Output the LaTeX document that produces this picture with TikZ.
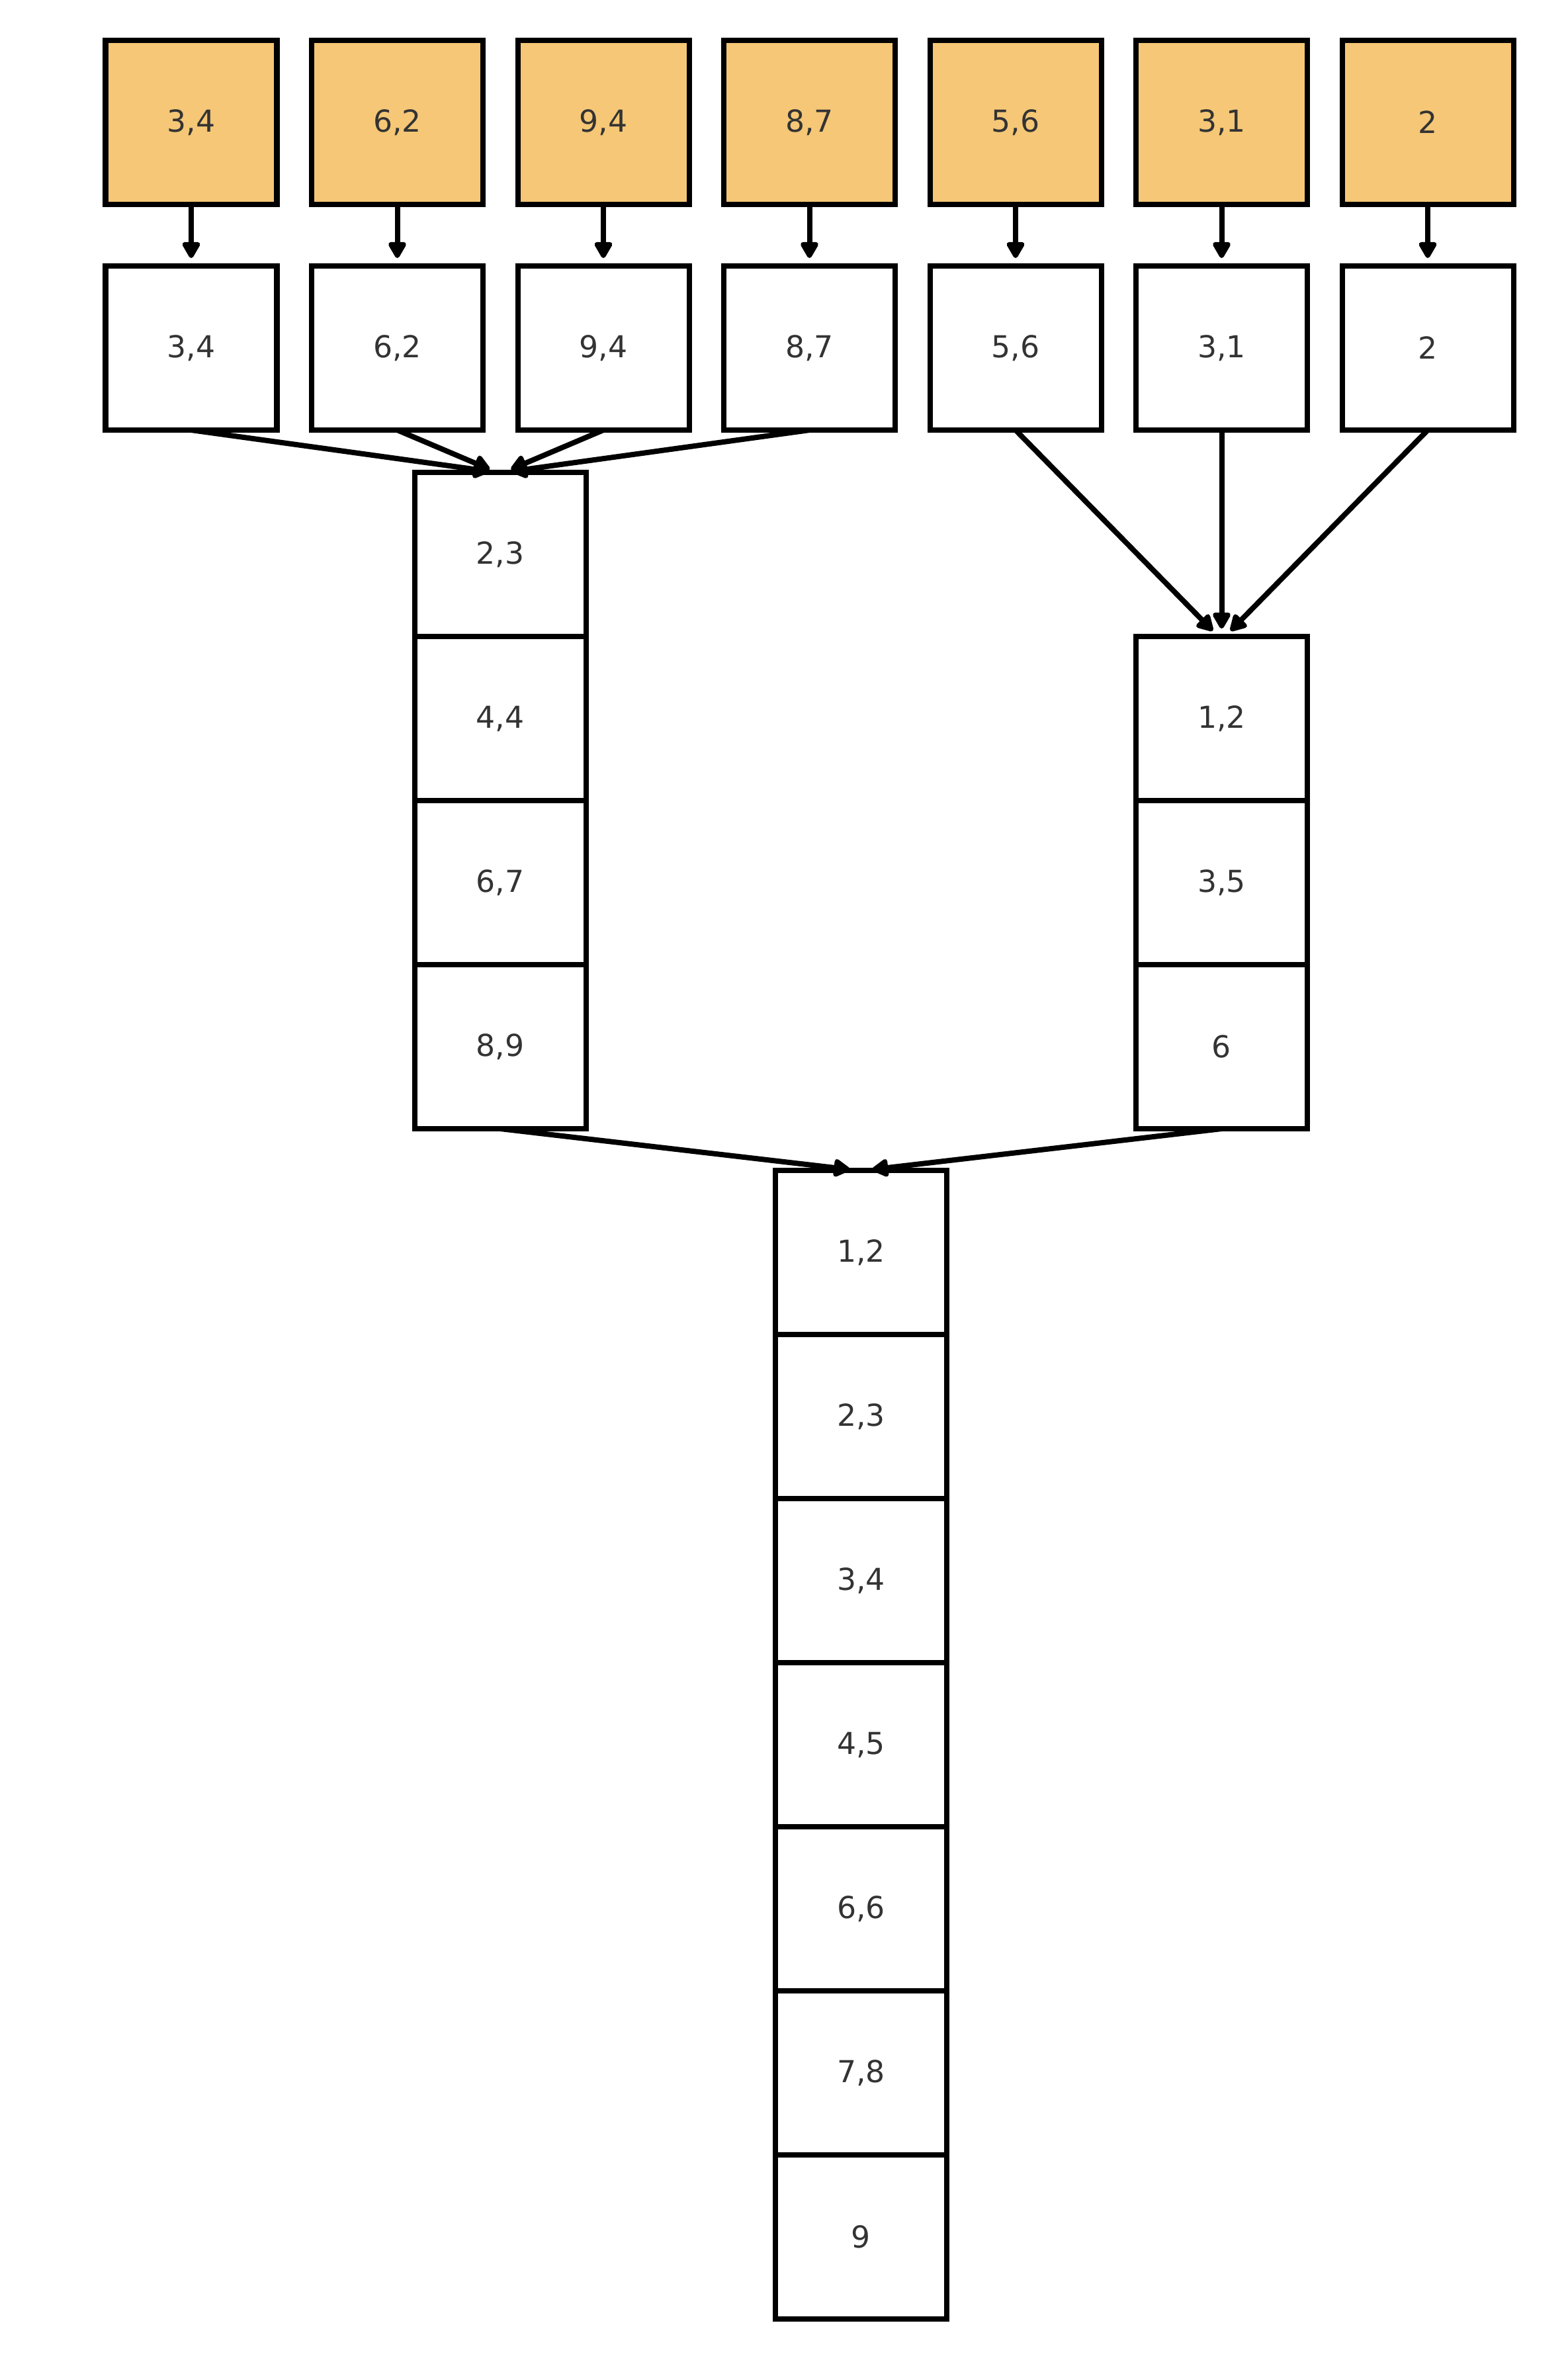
\documentclass[tikz,border=0pt]{standalone}
\usepackage{fontspec}
\setmainfont{DejaVu Sans}
\usetikzlibrary{positioning,calc,arrows.meta}
\definecolor{runfill}{RGB}{245,199,118}
\definecolor{numgray}{RGB}{51,51,51}
\begin{document}
\begin{tikzpicture}[->,>={Triangle[length=8pt,width=8.5pt,round]},shorten >=1.2mm,
    line width=2.28pt,node distance=3.115cm,
    cell/.style={draw,fill=white,inner sep=0pt,outer sep=0pt,minimum width=2.59cm,
      minimum height=2.48cm,text=numgray,font=\fontsize{13pt}{15pt}\selectfont},
    input/.style={cell,fill=runfill}]
    \useasboundingbox (0,0) rectangle (23.7,-35.7);
    % unsorted pairs
    \node[input] (1) at (2.89,-1.85) {3,4};
    \node[input] (2) [right of=1] {6,2};
    \node[input] (3) [right of=2] {9,4};
    \node[input] (4) [right of=3] {8,7};
    \node[input] (5) [right of=4] {5,6};
    \node[input] (6) [right of=5] {3,1};
    \node[input] (7) [right of=6] {2};
    % copied row
    \node[cell] (11) [below of=1,node distance=3.41cm] {3,4};
    \node[cell] (12) [right of=11] {6,2};
    \node[cell] (13) [right of=12] {9,4};
    \node[cell] (14) [right of=13] {8,7};
    \node[cell] (15) [right of=14] {5,6};
    \node[cell] (16) [right of=15] {3,1};
    \node[cell] (17) [right of=16] {2};
    % left run
    \node[cell] (21) at ($(12)!0.5!(13)+(0,-3.12)$) {2,3};
    \node[cell] (22) [below of=21,node distance=2.48cm] {4,4};
    \node[cell] (23) [below of=22,node distance=2.48cm] {6,7};
    \node[cell] (24) [below of=23,node distance=2.48cm] {8,9};
    % right run
    \node[cell] (31) at (16 |- 22) {1,2};
    \node[cell] (32) [below of=31,node distance=2.48cm] {3,5};
    \node[cell] (33) [below of=32,node distance=2.48cm] {6};
    % merged result
    \node[cell] (41) at ($(24)!0.5!(33)+(0,-3.11)$) {1,2};
    \node[cell] (42) [below of=41,node distance=2.48cm] {2,3};
    \node[cell] (43) [below of=42,node distance=2.48cm] {3,4};
    \node[cell] (44) [below of=43,node distance=2.48cm] {4,5};
    \node[cell] (45) [below of=44,node distance=2.48cm] {6,6};
    \node[cell] (46) [below of=45,node distance=2.48cm] {7,8};
    \node[cell] (47) [below of=46,node distance=2.48cm] {9};

    \path
      (1) edge (11)
      (2) edge (12)
      (3) edge (13)
      (4) edge (14)
      (5) edge (15)
      (6) edge (16)
      (7) edge (17)
      (11.south) edge ([xshift=-0.05cm]21.north)
      (12.south) edge ([xshift=-0.05cm]21.north)
      (13.south) edge ([xshift=0.05cm]21.north)
      (14.south) edge ([xshift=0.05cm]21.north)
      (15.south) edge ([xshift=-0.05cm]31.north)
      (16) edge (31)
      (17.south) edge ([xshift=0.05cm]31.north)
      (24.south) edge ([xshift=-0.05cm]41.north)
      (33.south) edge ([xshift=0.05cm]41.north);
  \end{tikzpicture}
\end{document}
